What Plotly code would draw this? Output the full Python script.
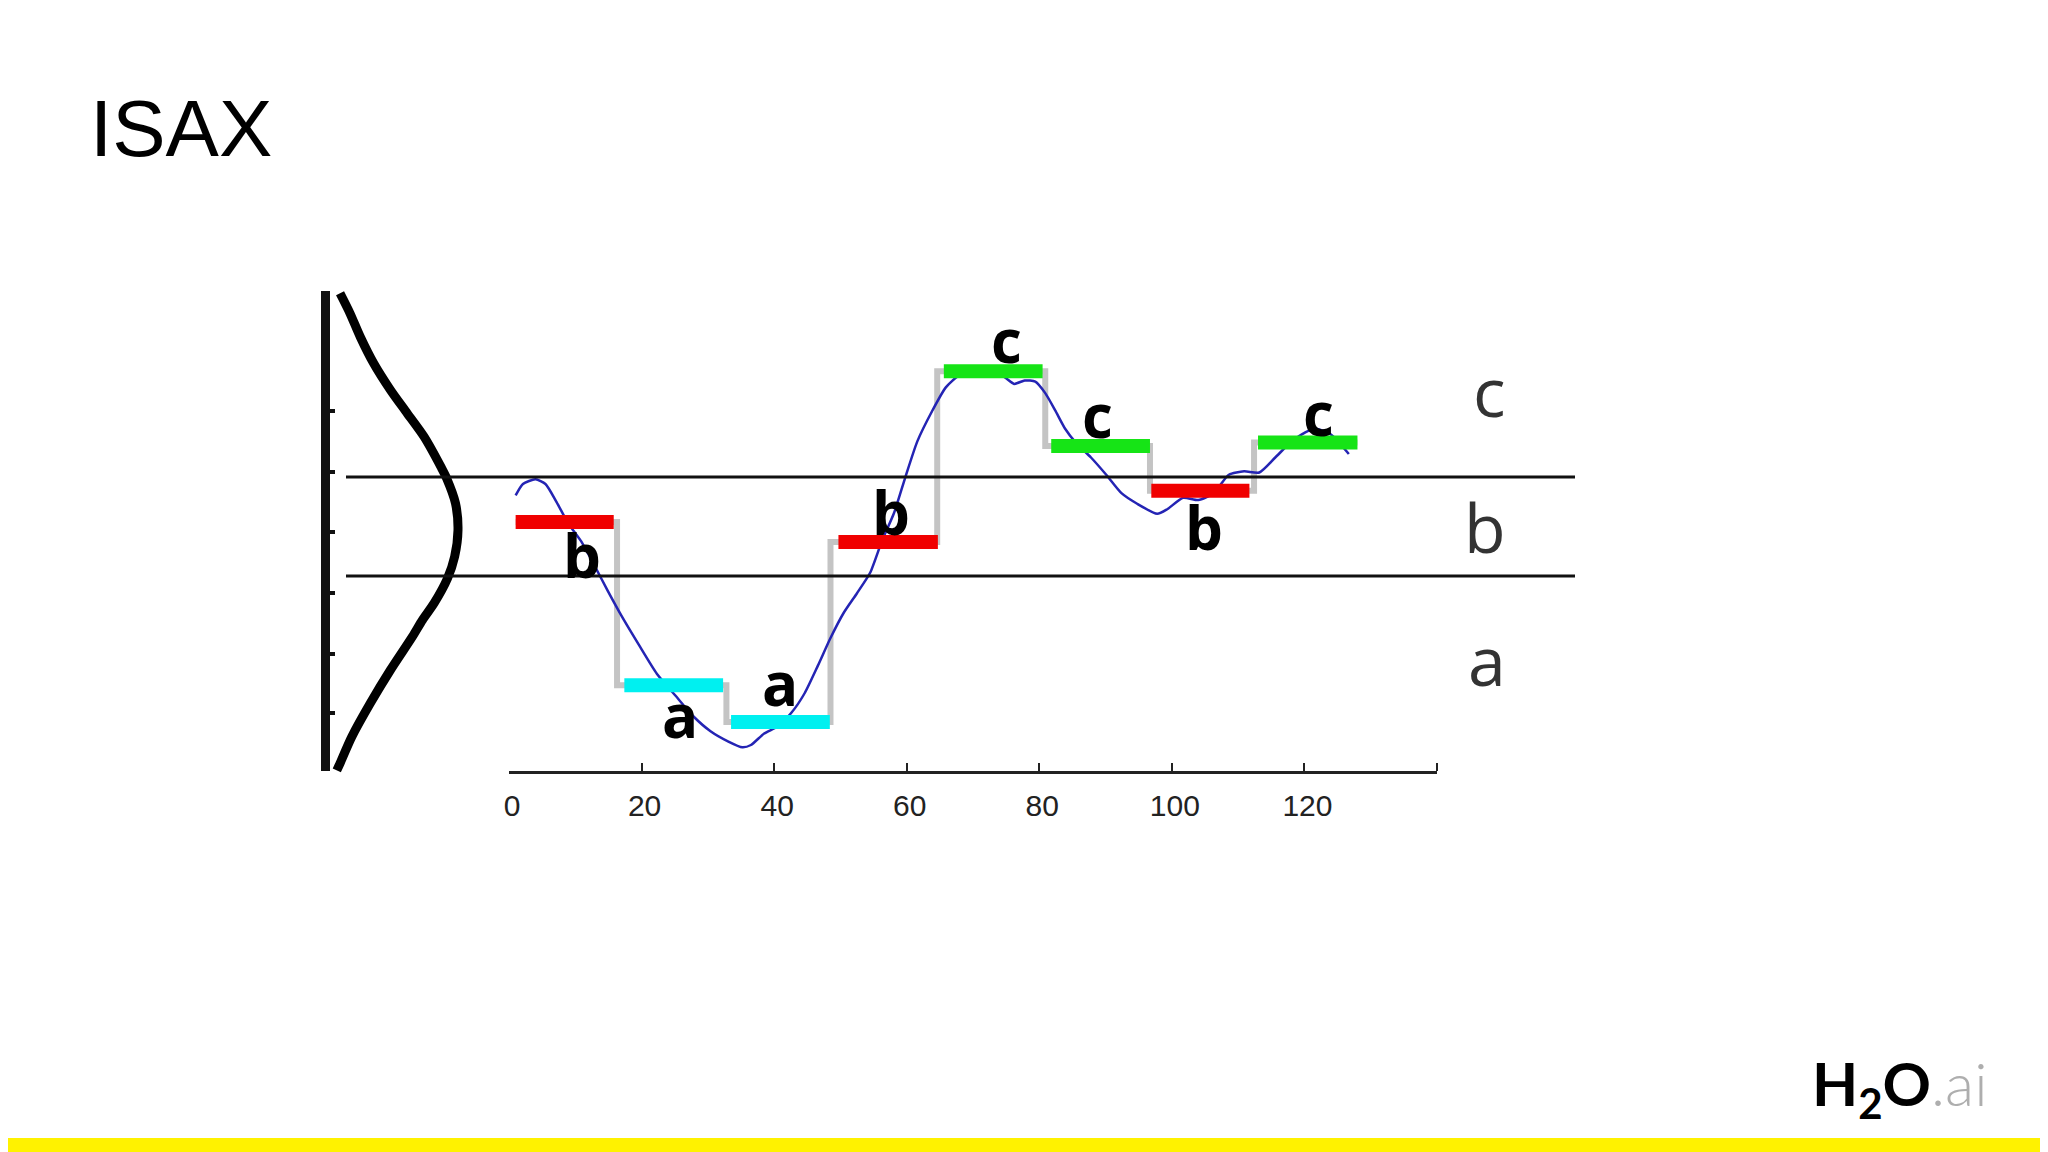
import plotly.graph_objects as go

# ---------------- data ----------------
# blue time series (time index, normalised value)
series_t = [1.0, 2.1, 4.0, 5.5, 7.2, 8.9, 10.9, 12.9, 14.9, 17.0, 19.6, 22.3, 25.1, 27.8,
            30.4, 33.1, 35.2, 36.5, 38.5, 40.5, 42.6, 44.6, 46.6, 48.5, 50.5, 52.5, 54.5,
            56.3, 58.1, 59.8, 61.6, 63.8, 65.9, 67.8, 70.0, 72.0, 74.7, 76.2, 77.8, 79.4,
            80.9, 82.4, 83.9, 85.5, 87.8, 90.1, 92.4, 94.7, 97.8, 99.3, 101.7, 104.0,
            106.3, 108.6, 110.9, 113.2, 115.6, 117.9, 120.2, 121.7, 124.0, 126.7]
series_v = [0.27, 0.37, 0.41, 0.37, 0.21, 0.03, -0.13, -0.34, -0.56, -0.78, -1.03, -1.28,
            -1.47, -1.65, -1.78, -1.87, -1.92, -1.90, -1.80, -1.74, -1.62, -1.45, -1.21,
            -0.97, -0.75, -0.58, -0.40, -0.12, 0.12, 0.43, 0.74, 1.00, 1.21, 1.31, 1.35,
            1.35, 1.30, 1.24, 1.27, 1.26, 1.16, 1.01, 0.85, 0.73, 0.60, 0.45, 0.29, 0.20,
            0.11, 0.15, 0.25, 0.23, 0.29, 0.45, 0.48, 0.47, 0.60, 0.73, 0.82, 0.85, 0.80,
            0.63]

# PAA / SAX segments
seg_start = [1.0, 17.4, 33.5, 49.7, 65.6, 81.8, 96.9, 113.0]
seg_end = [15.8, 32.3, 48.4, 64.7, 80.5, 96.7, 111.7, 128.0]
seg_value = [0.04, -1.38, -1.70, -0.135, 1.35, 0.70, 0.31, 0.73]
seg_symbol = ["b", "a", "a", "b", "c", "c", "b", "c"]

# grey PAA step line (segment boundaries)
step_edges = [1.0, 16.3, 32.8, 48.5, 64.6, 80.9, 96.7, 112.4, 128.0]

# SAX breakpoints and alphabet
breakpoints = [-0.43, 0.43]
alphabet = ["a", "b", "c"]
alphabet_level = [-1.16, 0.0, 1.18]

# gaussian curve drawn at the left (level, relative density)
gauss_level = [2.028, 1.854, 1.650, 1.419, 1.187, 0.984, 0.781, 0.520, 0.42, 0.202,
               -0.030, -0.262, -0.450, -0.667, -0.813, -0.958, -1.248, -1.537, -1.828,
               -2.059, -2.12]
gauss_density = [0.017, 0.10, 0.185, 0.297, 0.437, 0.577, 0.717, 0.857, 0.905, 0.979,
                 1.0, 0.972, 0.913, 0.801, 0.704, 0.620, 0.437, 0.269, 0.115, 0.017,
                 -0.01]

# left vertical scale ticks
left_ticks = [1.004, 0.477, -0.048, -0.578, -1.109, -1.622]

# x axis ticks
x_label_vals = [0, 20, 40, 60, 80, 100, 120]
x_label_text = ["0", "20", "40", "60", "80", "100", "120"]
x_mark_vals = [20, 40, 60, 80, 100, 120, 140]

sym_color = {"a": "#00F0F0", "b": "#F00000", "c": "#16E416"}

# the page body has an 8px margin: the figure is sized so it ends at the window edge
OFF = 8
W, H = 2048 - OFF, 1152 - OFF


def px(x):
    return (x - OFF) / W


def py(y):
    return 1 - (y - OFF) / H


fig = go.Figure()

# gaussian
fig.add_trace(go.Scatter(x=gauss_density, y=gauss_level, xaxis="x2", yaxis="y2",
                         mode="lines", line=dict(color="#000000", width=9, shape="spline",
                                                 smoothing=0.8),
                         hoverinfo="skip", showlegend=False))

# grey step
step_levels = seg_value + [seg_value[-1]]
fig.add_trace(go.Scatter(x=step_edges, y=step_levels, mode="lines",
                         line=dict(color="#C4C4C4", width=6, shape="hv"),
                         hoverinfo="skip", showlegend=False))

# blue series
fig.add_trace(go.Scatter(x=series_t, y=series_v, mode="lines",
                         line=dict(color="#2424B4", width=2.5, shape="spline", smoothing=0.6),
                         hoverinfo="skip", showlegend=False))

# SAX bars
for s, e, v, sym in zip(seg_start, seg_end, seg_value, seg_symbol):
    fig.add_trace(go.Scatter(x=[s, e], y=[v, v], mode="lines",
                             line=dict(color=sym_color[sym], width=14),
                             hoverinfo="skip", showlegend=False))

# y-axis geometry: value 0 at pixel 526.5, 115 px per unit
y_top_px, y_bot_px = 291, 771
y_range = [-(y_bot_px - 526.5) / 115, (526.5 - y_top_px) / 115]
g_top_px, g_bot_px = 271, 791
g_range = [-(g_bot_px - 526.5) / 115, (526.5 - g_top_px) / 115]

fig.update_layout(
    template="none",
    width=W, height=H,
    margin=dict(l=0, r=0, t=0, b=0, pad=0, autoexpand=False),
    paper_bgcolor="#FFFFFF", plot_bgcolor="rgba(0,0,0,0)",
    showlegend=False,
    xaxis=dict(domain=[px(509), px(1437)], range=[0, 140], anchor="y", automargin=False,
               showline=True, linecolor="#222222", linewidth=2.5,
               showgrid=False, zeroline=False,
               tickmode="array", tickvals=x_label_vals, ticktext=x_label_text, ticks="",
               ticklabelstandoff=6, ticklabelshift=3,
               tickfont=dict(family="Liberation Sans, Arial, sans-serif", size=30,
                             color="#222222"),
               minor=dict(tickmode="array", tickvals=x_mark_vals, ticks="inside",
                          ticklen=8, tickwidth=2, tickcolor="#222222", showgrid=False)),
    yaxis=dict(domain=[py(y_bot_px), py(y_top_px)], range=y_range, anchor="free",
               automargin=False,
               position=px(325), showline=True, linecolor="#111111", linewidth=9,
               showgrid=False, zeroline=False, showticklabels=False,
               tickmode="array", tickvals=left_ticks, ticks="inside", ticklen=5,
               tickwidth=4, tickcolor="#111111"),
    xaxis2=dict(domain=[px(326), px(470)], range=[-0.1, 1.1], anchor="y2", visible=False,
                automargin=False),
    yaxis2=dict(domain=[py(g_bot_px), py(g_top_px)], range=g_range, anchor="x2",
                visible=False, automargin=False),
)

# breakpoint lines
for b in breakpoints:
    fig.add_shape(type="line", xref="paper", yref="y", x0=px(346), x1=px(1575), y0=b, y1=b,
                  line=dict(color="#111111", width=3))

# yellow footer bar
fig.add_shape(type="rect", xref="paper", yref="paper", x0=0, x1=1, y0=0, y1=14 / H,
              fillcolor="#FFF200", line=dict(width=0), layer="above")

# bold letters next to the bars (offset in time, side above/below)
label_dt = [2.6, 0.9, 0.0, 0.4, 2.0, -0.4, 0.6, 1.6]
label_dy = [-0.29, -0.255, 0.335, 0.265, 0.27, 0.27, -0.31, 0.26]
for s, e, v, sym, dt, dy in zip(seg_start, seg_end, seg_value, seg_symbol, label_dt, label_dy):
    fig.add_annotation(x=(s + e) / 2 + dt, y=v + dy, xref="x", yref="y", text=sym,
                       showarrow=False,
                       font=dict(family="Open Sans, sans-serif", size=60, color="#000000",
                                 weight=700))

# alphabet labels on the right
for letter, lvl in zip(alphabet, alphabet_level):
    fig.add_annotation(x=px(1508), y=lvl, xref="paper", yref="y", text=letter,
                       showarrow=False,
                       font=dict(family="Open Sans, sans-serif", size=68, color="#333333"))

# title
fig.add_annotation(x=px(88), y=py(128), xref="paper", yref="paper", text="ISAX",
                   showarrow=False, xanchor="left", yanchor="middle",
                   font=dict(family="Liberation Sans, Arial, sans-serif", size=80,
                             color="#000000"))

# logo
fig.add_annotation(x=px(1810), y=py(1130), xref="paper", yref="paper",
                   text='<b>H<sub>2</sub>O</b><span style="color:#AEAEAE;font-weight:300">.ai</span>',
                   showarrow=False, xanchor="left",
                   font=dict(family="Lato, sans-serif", size=60, color="#000000"))

fig.write_html("out.html")
